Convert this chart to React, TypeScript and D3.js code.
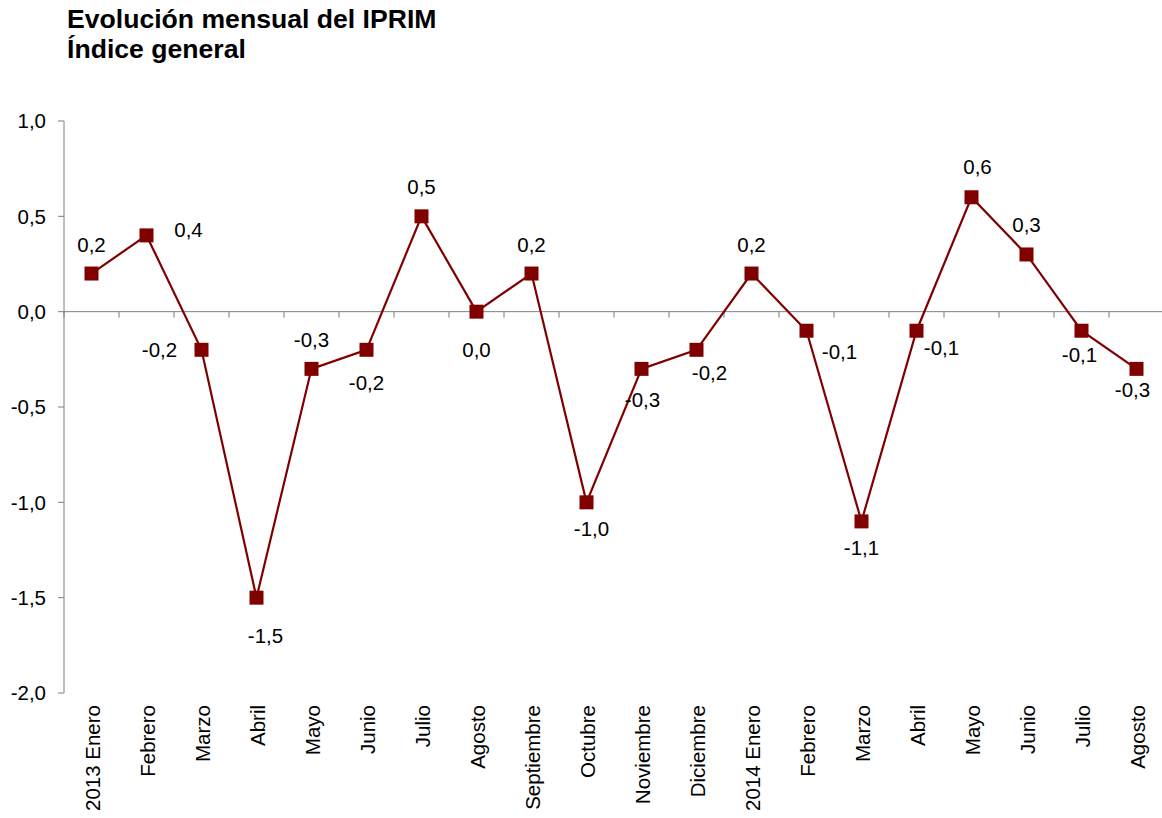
import React from "react";
import * as d3 from "d3";

const categories = [
  "2013 Enero", "Febrero", "Marzo", "Abril", "Mayo", "Junio", "Julio", "Agosto",
  "Septiembre", "Octubre", "Noviembre", "Diciembre", "2014 Enero", "Febrero",
  "Marzo", "Abril", "Mayo", "Junio", "Julio", "Agosto",
];
const values = [0.2, 0.4, -0.2, -1.5, -0.3, -0.2, 0.5, 0.0, 0.2, -1.0, -0.3, -0.2, 0.2, -0.1, -1.1, -0.1, 0.6, 0.3, -0.1, -0.3];
const yTicks = [1.0, 0.5, 0.0, -0.5, -1.0, -1.5, -2.0];
const titleLines = ["Evolución mensual del IPRIM", "Índice general"];

// layout: label offsets (dx, dy of label centre from the point)
const labelOffsets: [number, number][] = [
  [0, -29], [42, -6], [-42, 0], [9, 38], [0, -29], [0, 33], [0, -30], [0, 38],
  [0, -29], [5, 26], [1, 31], [13, 23], [0, -29], [33, 21], [0, 26], [25, 17],
  [6, -30], [0, -30], [-2, 24], [-4, 21],
];

const W = 1162, H = 818;
const x0 = 64, band = 55;
const color = "#800000";
const fmt = (v: number) => d3.format(".1f")(v).replace(".", ",").replace("−", "-");

export default function App() {
  const x = d3.scaleBand<number>().domain(d3.range(categories.length)).range([x0, x0 + band * categories.length]).paddingInner(0).paddingOuter(0);
  const y = d3.scaleLinear().domain([-2, 1]).range([693, 121]);
  const cx = (i: number) => (x(i) as number) + x.bandwidth() / 2;
  const line = d3.line<number>().x((_, i) => cx(i)).y((v) => y(v));
  const font = "'Liberation Sans', Arial, sans-serif";
  const fs = 20.5;
  return (
    <svg width={W} height={H} style={{ position: "absolute", left: 0, top: 0, background: "#fff" }} fontFamily={font}>
      <rect width={W} height={H} fill="#fff" />
      {titleLines.map((t, i) => (
        <text key={i} x={67} y={28 + i * 30} fontSize={26.6} fontWeight="bold" fill="#000">{t}</text>
      ))}
      {/* y axis */}
      <line x1={x0} x2={x0} y1={y(1)} y2={y(-2)} stroke="#7f7f7f" strokeWidth={1} />
      {yTicks.map((t) => (
        <g key={t}>
          <line x1={x0 - 6} x2={x0} y1={y(t)} y2={y(t)} stroke="#7f7f7f" />
          <text x={46} y={y(t)} dy="0.35em" textAnchor="end" fontSize={fs} fill="#000">{fmt(t)}</text>
        </g>
      ))}
      {/* zero axis */}
      <line x1={x0} x2={W} y1={y(0)} y2={y(0)} stroke="#7f7f7f" strokeWidth={1} />
      {d3.range(categories.length + 1).map((i) => (
        <line key={i} x1={x0 + i * band} x2={x0 + i * band} y1={y(0)} y2={y(0) + 6} stroke="#7f7f7f" />
      ))}
      {categories.map((c, i) => (
        <text key={i} transform={`translate(${cx(i) + 8},705) rotate(-90)`} textAnchor="end" fontSize={fs} fill="#000">{c}</text>
      ))}
      <path d={line(values) || ""} fill="none" stroke={color} strokeWidth={2.2} />
      {values.map((v, i) => (
        <rect key={i} x={cx(i) - 7} y={y(v) - 7} width={14} height={14} fill={color} />
      ))}
      {values.map((v, i) => (
        <text key={i} x={cx(i) + labelOffsets[i][0]} y={y(v) + labelOffsets[i][1]} dy="0.35em" textAnchor="middle" fontSize={fs} fill="#000">{fmt(v)}</text>
      ))}
    </svg>
  );
}
